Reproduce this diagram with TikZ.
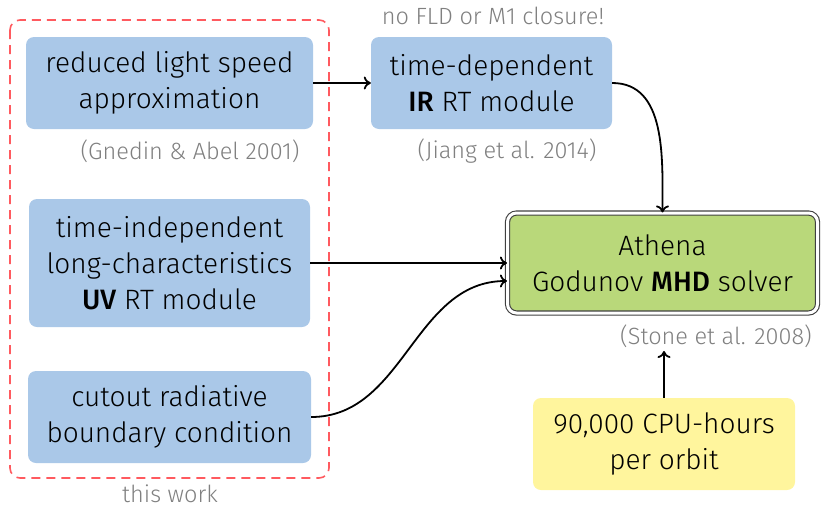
\documentclass[tikz,border=0pt]{standalone}
\usepackage{fontspec}
\setmainfont{Fira Sans Light}[BoldFont=Fira Sans Medium]
\usetikzlibrary{arrows.meta}
\definecolor{boxblue}{RGB}{170,200,232}
\definecolor{boxgreen}{RGB}{185,216,122}
\definecolor{boxyellow}{RGB}{255,245,157}
\definecolor{workred}{RGB}{255,90,95}
\definecolor{citegray}{RGB}{128,128,128}
\tikzset{
    module/.style={fill=boxblue, rounded corners=8pt, align=center,
        inner sep=0pt, font=\fontsize{28}{36}\selectfont},
    cite/.style={text=citegray, font=\fontsize{23.5}{28}\selectfont},
    flow/.style={-{To[length=7pt,width=13pt]}, line width=1.8pt},
}
\begin{document}
\begin{tikzpicture}[x=1pt, y=-1pt]
    \useasboundingbox (0,0) rectangle (821,509);
    % the part added here
    \draw[workred, dash pattern=on 9pt off 6pt, line width=1.6pt,
          rounded corners=10pt] (10,20) rectangle (329,478);
    \node[cite, inner sep=1pt] (thiswork) at (170,494) {this work};
    % modules
    \node[module, minimum width=287pt, minimum height=92pt] (rls) at (169.5,83)
        {reduced light speed\\approximation};
    \node[cite] (gnedin) at (190,151) {(Gnedin \& Abel 2001)};
    \node[module, minimum width=241pt, minimum height=92pt] (irrt) at (491.5,83)
        {time-dependent\\\textbf{IR} RT module};
    \node[cite] (jiang) at (507,151) {(Jiang et al. 2014)};
    \node[cite] (nofld) at (493,16) {no FLD or M1 closure!};
    \node[module, minimum width=281pt, minimum height=128pt] (uvrt) at (169.5,263)
        {time-independent\\long-characteristics\\\textbf{UV} RT module};
    \node[module, minimum width=283pt, minimum height=92pt] (cutout) at (169.5,417)
        {cutout radiative\\boundary condition};
    % solver
    \node[module, fill=boxgreen, draw=black!75, line width=1.1pt, double=white,
          double distance=3pt, rounded corners=9pt,
          minimum width=310pt, minimum height=100pt] (athena) at (662.5,263)
        {Athena\\Godunov \textbf{MHD} solver};
    \node[cite] (stone) at (716,336) {(Stone et al. 2008)};
    \node[module, fill=boxyellow, minimum width=262pt, minimum height=92pt]
        (cpu) at (664,444) {90,000 CPU-hours\\per orbit};
    % connectors
    \draw[flow] (rls.east) -- (irrt.west);
    \draw[flow] (irrt.east) to[out=0, in=90] (athena.north);
    \draw[flow] (uvrt.east) -- (athena.west);
    \draw[flow] (cutout.east) to[out=0, in=180] ([yshift=-18pt]athena.west);
    \draw[flow] (cpu.north) -- (cpu.north |- stone.south);
\end{tikzpicture}
\end{document}
